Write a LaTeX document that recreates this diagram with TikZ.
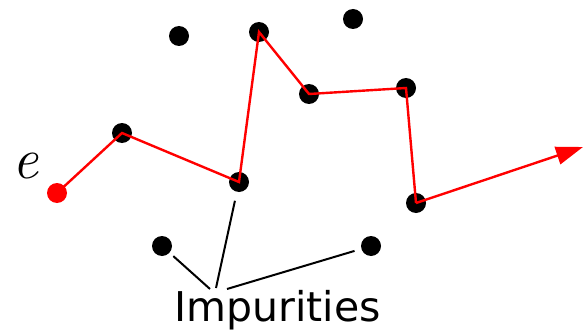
\documentclass[tikz,border=0pt]{standalone}
\usepackage{fontspec}
\newfontfamily\labelfont{DejaVu Sans}
\usetikzlibrary{arrows.meta}
\begin{document}
\begin{tikzpicture}[x=1pt,y=1pt,
  dot/.style={circle,fill=black,inner sep=0pt,minimum size=20pt},
  reddot/.style={circle,fill=red,inner sep=0pt,minimum size=20pt},
  path/.style={draw=red,line width=2.4pt},
  pointer/.style={draw=black,line width=2pt}]
\useasboundingbox (0,0) rectangle (583,330);
% path dots (y' = 330 - y)
\node[reddot] (e0) at (57,137) {};
\node[dot] (p1) at (122,197) {};
\node[dot] (p2) at (239,148) {};
\node[dot] (p3) at (259,298) {};
\node[dot] (p4) at (309,236) {};
\node[dot] (p5) at (406,242) {};
\node[dot] (p6) at (416,127) {};
\coordinate (end) at (583,183);
% isolated impurities
\node[dot] (d1) at (179,294) {};
\node[dot] (d2) at (353,311) {};
\node[dot] (d3) at (162,84) {};
\node[dot] (d4) at (371,84) {};
% path
\draw[path] (e0.center) -- (p1.center) -- (p2.center) -- (p3.center) -- (p4.center) -- (p5.center) -- (p6.center);
\draw[path,-{Triangle[length=27pt,width=18pt]}] (p6.center) -- (end);
% labels
\node[inner sep=0pt,anchor=base] (elab) at (25.5,152) {\fontsize{58}{58}\selectfont\itshape e};
\node[inner sep=0pt,anchor=base] (imp) at (277.5,9) {\labelfont\fontsize{41}{41}\selectfont Impurities};
\coordinate (c1) at (210,41);
\coordinate (c2) at (216,42);
\coordinate (c3) at (227,41);
\draw[pointer,shorten <=5pt] (d3) -- (c1);
\draw[pointer,shorten <=9pt] (p2) -- (c2);
\draw[pointer,shorten <=7pt] (d4) -- (c3);
\end{tikzpicture}
\end{document}
